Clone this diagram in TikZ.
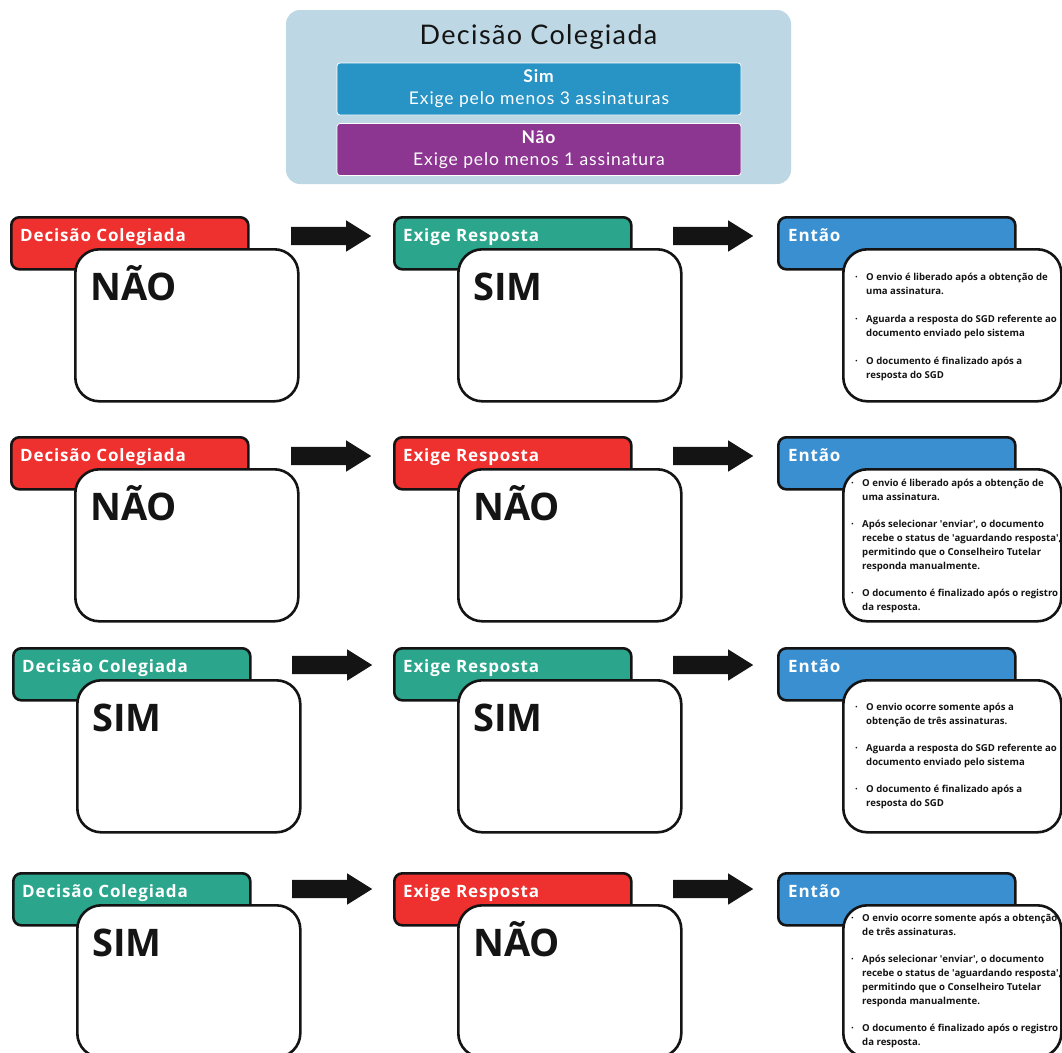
\documentclass[tikz,border=0pt]{standalone}
\usepackage{fontspec}
\setmainfont{Open Sans}
\newfontfamily\legendfont[LetterSpace=5]{Lato}
\newfontfamily\headfont[LetterSpace=5]{Open Sans}
\usetikzlibrary{shapes.arrows}
\definecolor{cred}{HTML}{EE302E}
\definecolor{cteal}{HTML}{2BA68C}
\definecolor{cblue}{HTML}{3A8FD0}
\definecolor{cbg}{HTML}{BDD7E5}
\definecolor{csim}{HTML}{2893C5}
\definecolor{cnao}{HTML}{8C3591}
\definecolor{cink}{HTML}{141414}
\tikzset{
 tabbox/.style={draw=cink, line width=2.6pt, rounded corners=8pt, anchor=north west, inner sep=0pt, minimum width=237pt, minimum height=52pt},
 cardbox/.style={draw=cink, fill=white, line width=2.6pt, rounded corners=24pt, anchor=north west, inner sep=0pt, minimum width=223pt, minimum height=152pt},
 headtext/.style={anchor=base west, inner sep=0pt, text=white, font=\headfont\bfseries\fontsize{17}{20}\selectfont},
 bigtext/.style={anchor=base west, inner sep=0pt, font=\bfseries\fontsize{38}{44}\selectfont, text=cink},
 blockarrow/.style={single arrow, fill=cink, draw=none, inner xsep=0pt, inner ysep=9pt, minimum width=0pt, minimum height=80pt, single arrow head extend=6.5pt, single arrow tip angle=64, anchor=tail},
 bullettext/.style={anchor=base west, inner sep=0pt, font=\bfseries\fontsize{9.6}{14}\selectfont, text=cink},
 legbox/.style={draw=white, line width=0.8pt, rounded corners=3pt, minimum width=404pt, minimum height=52pt, inner sep=0pt, text=white, align=center, font=\legendfont\fontsize{17.5}{22}\selectfont},
}
% #1 name, #2 x, #3 y, #4 colour, #5 header, #6 big text
\newcommand\tabcard[6]{%
 \node[tabbox, fill=#4] (#1tab) at (#2,#3) {};
 \node[headtext] (#1head) at (#2+10,#3+25) {#5};
 \node[cardbox] (#1card) at (#2+64,#3+32) {};
 \node[bigtext] (#1big) at (#2+80,#3+84) {#6};
}
% #1 name, #2 y
\newcommand\thentab[2]{%
 \node[tabbox, fill=cblue] (#1tab) at (777,#2) {};
 \node[headtext] (#1head) at (788,#2+25) {Então};
 \node[cardbox, minimum width=218pt] (#1card) at (842,#2+32) {};
}
\newcommand\bl{\textperiodcentered}
\newcommand\q{\textquotesingle}
\begin{document}
\begin{tikzpicture}[x=1pt,y=-1pt]
\useasboundingbox (0,0) rectangle (1062,1052);
\fill[white] (0,0) rectangle (1062,1052);
\clip (0,0) rectangle (1062,1052);

% legend
\node[fill=cbg, rounded corners=14pt, minimum width=505pt, minimum height=174pt, inner sep=0pt] (legend) at (538.5,97) {};
\node[font=\legendfont\fontsize{27}{30}\selectfont, text=cink, inner sep=0pt] (title) at (538.5,37) {Decisão Colegiada};
\node[legbox, fill=csim] (sim) at (539,89) {\textbf{Sim}\\Exige pelo menos 3 assinaturas};
\node[legbox, fill=cnao] (nao) at (539,149.5) {\textbf{Não}\\Exige pelo menos 1 assinatura};

% row 1
\tabcard{ra}{10}{216}{cred}{Decisão Colegiada}{NÃO}
\tabcard{rb}{393}{216}{cteal}{Exige Resposta}{SIM}
\thentab{rc}{216}
\node[blockarrow] (a1) at (291,236) {};
\node[blockarrow] (b1) at (673,236) {};
\node[bullettext] (t1) at (855,280) {\begin{tabular}[t]{@{}p{11pt}@{}l@{}}
\bl & O envio é liberado após a obtenção de\\
 & uma assinatura.\\[14pt]
\bl & Aguarda a resposta do SGD referente ao\\
 & documento enviado pelo sistema\\[14pt]
\bl & O documento é finalizado após a\\
 & resposta do SGD
\end{tabular}};

% row 2
\tabcard{sa}{10}{436}{cred}{Decisão Colegiada}{NÃO}
\tabcard{sb}{393}{436}{cred}{Exige Resposta}{NÃO}
\thentab{sc}{436}
\node[blockarrow] (a2) at (291,456) {};
\node[blockarrow] (b2) at (673,456) {};
\node[bullettext] (t2) at (851,486) {\begin{tabular}[t]{@{}p{11pt}@{}l@{}}
\bl & O envio é liberado após a obtenção de\\
 & uma assinatura.\\[13pt]
\bl & Após selecionar \q enviar\q, o documento\\
 & recebe o status de \q aguardando resposta\q,\\
 & permitindo que o Conselheiro Tutelar\\
 & responda manualmente.\\[13pt]
\bl & O documento é finalizado após o registro\\
 & da resposta.
\end{tabular}};

% row 3
\tabcard{ua}{12}{647}{cteal}{Decisão Colegiada}{SIM}
\tabcard{ub}{393}{647}{cteal}{Exige Resposta}{SIM}
\thentab{uc}{647}
\node[blockarrow] (a3) at (292,665) {};
\node[blockarrow] (b3) at (673,665) {};
\node[bullettext] (t3) at (855,710) {\begin{tabular}[t]{@{}p{11pt}@{}l@{}}
\bl & O envio ocorre somente após a\\
 & obtenção de três assinaturas.\\[13pt]
\bl & Aguarda a resposta do SGD referente ao\\
 & documento enviado pelo sistema\\[13pt]
\bl & O documento é finalizado após a\\
 & resposta do SGD
\end{tabular}};

% row 4
\tabcard{va}{12}{872}{cteal}{Decisão Colegiada}{SIM}
\tabcard{vb}{393}{872}{cred}{Exige Resposta}{NÃO}
\thentab{vc}{872}
\node[blockarrow] (a4) at (292,889) {};
\node[blockarrow] (b4) at (673,889) {};
\node[bullettext] (t4) at (851,921) {\begin{tabular}[t]{@{}p{11pt}@{}l@{}}
\bl & O envio ocorre somente após a obtenção\\
 & de três assinaturas.\\[13pt]
\bl & Após selecionar \q enviar\q, o documento\\
 & recebe o status de \q aguardando resposta\q,\\
 & permitindo que o Conselheiro Tutelar\\
 & responda manualmente.\\[13pt]
\bl & O documento é finalizado após o registro\\
 & da resposta.
\end{tabular}};
\end{tikzpicture}
\end{document}
